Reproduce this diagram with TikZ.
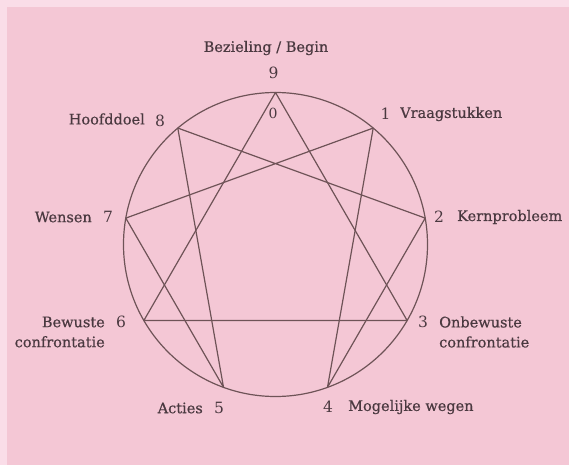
\documentclass[tikz,border=0pt]{standalone}
\usepackage{fontspec}
\setmainfont{DejaVu Serif}
\newfontfamily\labelfont{DejaVu Serif}[FakeBold=0.6]
\definecolor{bgpink}{HTML}{F4C7D5}
\definecolor{edgepink}{HTML}{FADDE8}
\definecolor{linebrown}{HTML}{6E5357}
\definecolor{textbrown}{HTML}{4A3940}

\begin{document}
\begin{tikzpicture}[x=1pt, y=1pt,
    num/.style={text=textbrown, font=\fontsize{15.5}{17}\selectfont, inner sep=0pt},
    lbl/.style={text=textbrown, font=\labelfont\fontsize{14.5}{20}\selectfont,
                inner sep=0pt},
    figline/.style={linebrown, line width=1.2pt, line join=round}]
  % page and background
  \useasboundingbox (-275.5,-220.5) rectangle (293.5,244.5);
  \fill[edgepink] (-275.5,-220.5) rectangle (293.5,244.5);
  \fill[bgpink] (-268.5,-220.5) rectangle (293.5,237.5);

  % nine points on the circle, 9 at the top
  \def\R{152}
  \foreach \i in {1,...,9}
      {\coordinate (p\i) at ({90-40*\i}:\R);}
  \draw[figline] (0,0) circle (\R);

  % triangle 9-3-6 and hexad 1-4-2-8-5-7
  \draw[figline] (p9) -- (p3) -- (p6) -- cycle;
  \draw[figline] (p1) -- (p4) -- (p2) -- (p8) -- (p5) -- (p7) -- cycle;

  % numbers
  \node[num] (n9) at (-2,171.5) {9};
  \node[num, font=\fontsize{14}{16}\selectfont] (n0) at (-2.5,131.5) {0};
  \node[num] (n1) at (110,130.5) {1};
  \node[num] (n2) at (163.5,27.5) {2};
  \node[num] (n3) at (147.5,-77.5) {3};
  \node[num] (n4) at (52.5,-162.5) {4};
  \node[num] (n5) at (-56.5,-163.5) {5};
  \node[num] (n6) at (-154.5,-77.5) {6};
  \node[num] (n7) at (-167.5,27.5) {7};
  \node[num] (n8) at (-115.5,123.5) {8};

  % names
  \node[lbl] (begin) at (-9.5,196.5) {Bezieling / Begin};
  \node[lbl, anchor=west] (vraag) at (124.5,130.5) {Vraagstukken};
  \node[lbl, anchor=west] (kern) at (181.5,27.5) {Kernprobleem};
  \node[lbl, anchor=west, align=left] (onbew) at (163.5,-87.5)
      {Onbewuste\\confrontatie};
  \node[lbl, anchor=west] (wegen) at (72.5,-162.5) {Mogelijke wegen};
  \node[lbl, anchor=east] (acties) at (-72.5,-163.5) {Acties};
  \node[lbl, anchor=east, align=right] (bewust) at (-170.5,-87.5)
      {Bewuste\\confrontatie};
  \node[lbl, anchor=east] (wensen) at (-183.5,27.5) {Wensen};
  \node[lbl, anchor=east] (doel) at (-130.5,125.5) {Hoofddoel};
\end{tikzpicture}
\end{document}
